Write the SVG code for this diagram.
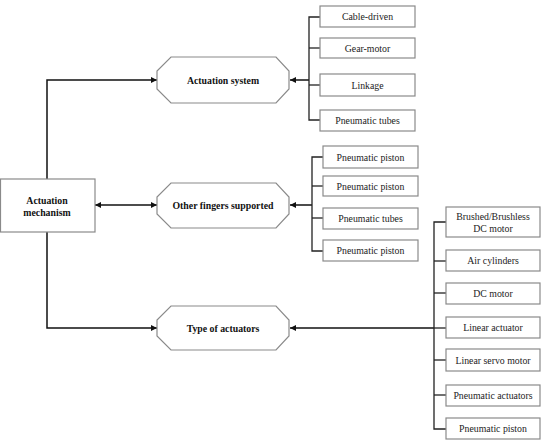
<svg xmlns="http://www.w3.org/2000/svg" width="543" height="441" viewBox="0 0 543 441">
<defs>
<marker id="ah" viewBox="0 0 8 8" refX="8" refY="4" markerWidth="6" markerHeight="6" orient="auto-start-reverse" markerUnits="userSpaceOnUse">
<path d="M0,0 L8,4 L0,8 z" fill="#111"/>
</marker>
<style>
.box{fill:#fff;stroke:#8a8a8a;stroke-width:1.2}
.oct{fill:#fff;stroke:#8a8a8a;stroke-width:1.2}
text{font-family:'Liberation Serif','Times New Roman',Times,serif;font-size:9.8px;fill:#222;text-anchor:middle}
.b{font-weight:bold;fill:#111}
.ln{fill:none;stroke:#222;stroke-width:1.3}
.ar{fill:none;stroke:#111;stroke-width:1.5}
</style>
</defs>
<rect width="543" height="441" fill="#fff"/>
<g id="connectors">
<polyline class="ar" points="47,179 47,80 157,80" marker-end="url(#ah)"/>
<line class="ar" x1="95" y1="205" x2="157" y2="205" marker-start="url(#ah)" marker-end="url(#ah)"/>
<polyline class="ar" points="47,232 47,328 157,328" marker-end="url(#ah)"/>
<line class="ar" x1="309" y1="80" x2="290" y2="80" marker-end="url(#ah)"/>
<polyline class="ln" points="320,17 309,17 309,120 320,120"/>
<line class="ln" x1="309" y1="48" x2="320" y2="48"/>
<line class="ln" x1="309" y1="85" x2="320" y2="85"/>
<line class="ar" x1="312" y1="205" x2="290" y2="205" marker-end="url(#ah)"/>
<polyline class="ln" points="323,157 312,157 312,251 323,251"/>
<line class="ln" x1="312" y1="186" x2="323" y2="186"/>
<line class="ln" x1="312" y1="218" x2="323" y2="218"/>
<line class="ar" x1="434" y1="328" x2="290" y2="328" marker-end="url(#ah)"/>
<polyline class="ln" points="446,222 434,222 434,429 446,429"/>
<line class="ln" x1="434" y1="261" x2="446" y2="261"/>
<line class="ln" x1="434" y1="293" x2="446" y2="293"/>
<line class="ln" x1="434" y1="328" x2="446" y2="328"/>
<line class="ln" x1="434" y1="360" x2="446" y2="360"/>
<line class="ln" x1="434" y1="395" x2="446" y2="395"/>
</g>
<g id="actuation-mechanism">
<rect class="box" x="0.5" y="179" width="94.5" height="53"/>
<text class="b" x="47" y="203.5">Actuation</text>
<text class="b" x="47" y="215.5">mechanism</text>
</g>
<g id="actuation-system">
<polygon class="oct" points="171,57 276,57 289,71 289,89 276,103 171,103 157,89 157,71"/>
<text class="b" x="223" y="83.5">Actuation system</text>
</g>
<g id="other-fingers">
<polygon class="oct" points="171,183 276,183 289,197 289,214 276,228 171,228 157,214 157,197"/>
<text class="b" x="223" y="208.5">Other fingers supported</text>
</g>
<g id="type-of-actuators">
<polygon class="oct" points="171,306 276,306 289,320 289,336 276,350 171,350 157,336 157,320"/>
<text class="b" x="223" y="331.5">Type of actuators</text>
</g>
<g id="cable-driven"><rect class="box" x="320" y="6" width="95" height="21"/><text x="367.5" y="20">Cable-driven</text></g>
<g id="gear-motor"><rect class="box" x="320" y="38" width="95" height="20"/><text x="367.5" y="51.5">Gear-motor</text></g>
<g id="linkage"><rect class="box" x="320" y="74" width="95" height="22"/><text x="367.5" y="88.5">Linkage</text></g>
<g id="pneumatic-tubes-1"><rect class="box" x="320" y="110" width="95" height="21"/><text x="367.5" y="124">Pneumatic tubes</text></g>
<g id="pneumatic-piston-1"><rect class="box" x="323" y="146" width="95" height="22"/><text x="370.5" y="160.5">Pneumatic piston</text></g>
<g id="pneumatic-piston-2"><rect class="box" x="323" y="176" width="95" height="20"/><text x="370.5" y="189.5">Pneumatic piston</text></g>
<g id="pneumatic-tubes-2"><rect class="box" x="323" y="208" width="95" height="21"/><text x="370.5" y="222">Pneumatic tubes</text></g>
<g id="pneumatic-piston-3"><rect class="box" x="323" y="240" width="95" height="21"/><text x="370.5" y="254">Pneumatic piston</text></g>
<g id="brushed-dc"><rect class="box" x="446" y="207" width="94" height="30"/><text x="493" y="219.5">Brushed/Brushless</text><text x="493" y="231.5">DC motor</text></g>
<g id="air-cylinders"><rect class="box" x="446" y="250" width="94" height="21"/><text x="493" y="264">Air cylinders</text></g>
<g id="dc-motor"><rect class="box" x="446" y="283" width="94" height="21"/><text x="493" y="297">DC motor</text></g>
<g id="linear-actuator"><rect class="box" x="446" y="317" width="94" height="21"/><text x="493" y="331">Linear actuator</text></g>
<g id="linear-servo"><rect class="box" x="446" y="349" width="94" height="22"/><text x="493" y="363.5">Linear servo motor</text></g>
<g id="pneumatic-actuators"><rect class="box" x="446" y="385" width="94" height="21"/><text x="493" y="399">Pneumatic actuators</text></g>
<g id="pneumatic-piston-4"><rect class="box" x="446" y="418" width="94" height="21"/><text x="493" y="432">Pneumatic piston</text></g>
</svg>
